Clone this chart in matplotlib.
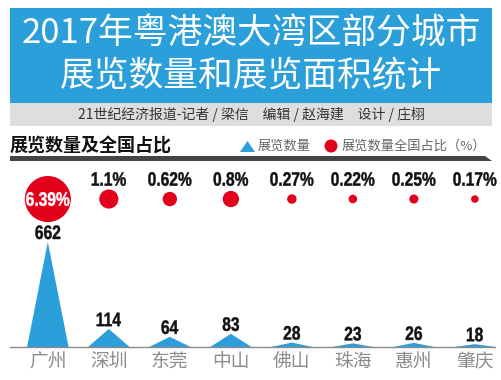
import matplotlib
matplotlib.use('Agg')
import matplotlib.pyplot as plt
import matplotlib.transforms as mtrans
from matplotlib.patches import Rectangle, Polygon, PathPatch
from matplotlib.textpath import TextPath
from matplotlib.font_manager import FontProperties

plt.rcParams['font.family'] = ['Noto Sans CJK SC', 'DejaVu Sans']

# data
cities = ['广州', '深圳', '东莞', '中山', '佛山', '珠海', '惠州', '肇庆']
counts = [662, 114, 64, 83, 28, 23, 26, 18]
shares = [6.39, 1.1, 0.62, 0.8, 0.27, 0.22, 0.25, 0.17]
share_labels = ['6.39%', '1.1%', '0.62%', '0.8%', '0.27%', '0.22%', '0.25%', '0.17%']

title_1 = '2017年粤港澳大湾区部分城市'
title_2 = '展览数量和展览面积统计'
byline = '21世纪经济报道-记者 / 梁信　编辑 / 赵海建　设计 / 庄栩'
section = '展览数量及全国占比'
legend_count = '展览数量'
legend_share = '展览数量全国占比（%）'

BLUE = '#2b9fd9'
RED = '#e2001b'
NUM_PROP = FontProperties(family='Liberation Sans', weight='bold')

fig = plt.figure(figsize=(5.01, 3.8), dpi=100)


def narrow_text(ax, x, y, s, trans, color, size=14, sx=0.8, va='center', dy=0):
    # squeeze the number glyphs horizontally, like the condensed face in the original
    tp = TextPath((0, 0), s, size=size, prop=NUM_PROP)
    ext = tp.get_extents()
    ox = (ext.x0 + ext.x1) / 2
    oy = (ext.y0 + ext.y1) / 2 if va == 'center' else ext.y0
    px, py = trans.transform((x, y))
    k = fig.dpi / 72
    tr = mtrans.Affine2D().translate(-ox, -oy).scale(sx * k, k).translate(px, py + dy * k)
    p = PathPatch(tp, transform=tr, facecolor=color, edgecolor=color, lw=0.3, zorder=5)
    p.set_clip_on(False)
    ax.add_artist(p)


# header / decoration layer in pixel coords
bg = fig.add_axes([0, 0, 1, 1])
bg.set_xlim(0, 501)
bg.set_ylim(380, 0)
bg.axis('off')

bg.add_patch(Rectangle((10, 8), 482, 95, color=BLUE, lw=0))
bg.add_patch(Rectangle((10, 103), 482, 23, color='#dedede', lw=0))
bg.text(251, 34, title_1, color='white', fontsize=25, fontweight='medium', ha='center', va='center')
bg.text(251, 76, title_2, color='white', fontsize=25, fontweight='medium', ha='center', va='center')
bg.text(251, 115, byline, color='#333333', fontsize=10, ha='center', va='center')

bg.text(10, 146, section, color='#111111', fontsize=13, fontweight='bold', ha='left', va='center')
bg.add_patch(Polygon([(10, 156), (485, 156), (492, 161), (10, 161)], color='#444444', lw=0))

# legend
bg.add_patch(Polygon([(240, 152), (247.5, 141), (255, 152)], color=BLUE, lw=0))
bg.text(258, 146, legend_count, color='#666666', fontsize=9.5, ha='left', va='center')
bg.add_patch(plt.Circle((331, 146), 6.5, color=RED, lw=0))
bg.text(342, 146, legend_share, color='#666666', fontsize=9.5, ha='left', va='center')

# chart
ax = fig.add_axes([10 / 501, 33 / 380, 485 / 501, 182 / 380])
ax.set_xlim(-0.62, 7.33)
ax.set_ylim(0, 1147)
ax.patch.set_alpha(0)
for s in ['top', 'left', 'right']:
    ax.spines[s].set_visible(False)
ax.spines['bottom'].set_color('#8a8a8a')
ax.spines['bottom'].set_linewidth(1)
ax.set_yticks([])
ax.set_xticks(range(len(cities)), cities)
ax.tick_params(axis='x', length=0, pad=3, labelsize=13.5, labelcolor='#8c8c8c')

hw = 0.34
for i, c in enumerate(counts):
    ax.fill([i - hw, i, i + hw], [0, c, 0], color=BLUE, lw=0)
    narrow_text(ax, i, c, str(c), ax.transData, '#111111', va='bottom', dy=2)

trans = ax.get_xaxis_transform()
ax.scatter(range(len(shares)), [0.813] * len(shares), s=[v * 172 for v in shares],
           color=RED, lw=0, transform=trans, clip_on=False, zorder=3)
top = max(shares)
for i, (v, lab) in enumerate(zip(shares, share_labels)):
    if v == top:
        narrow_text(ax, i, 0.813, lab, trans, 'white')
    else:
        narrow_text(ax, i, 0.923, lab, trans, '#111111')

fig.savefig('out.png', dpi=100)
